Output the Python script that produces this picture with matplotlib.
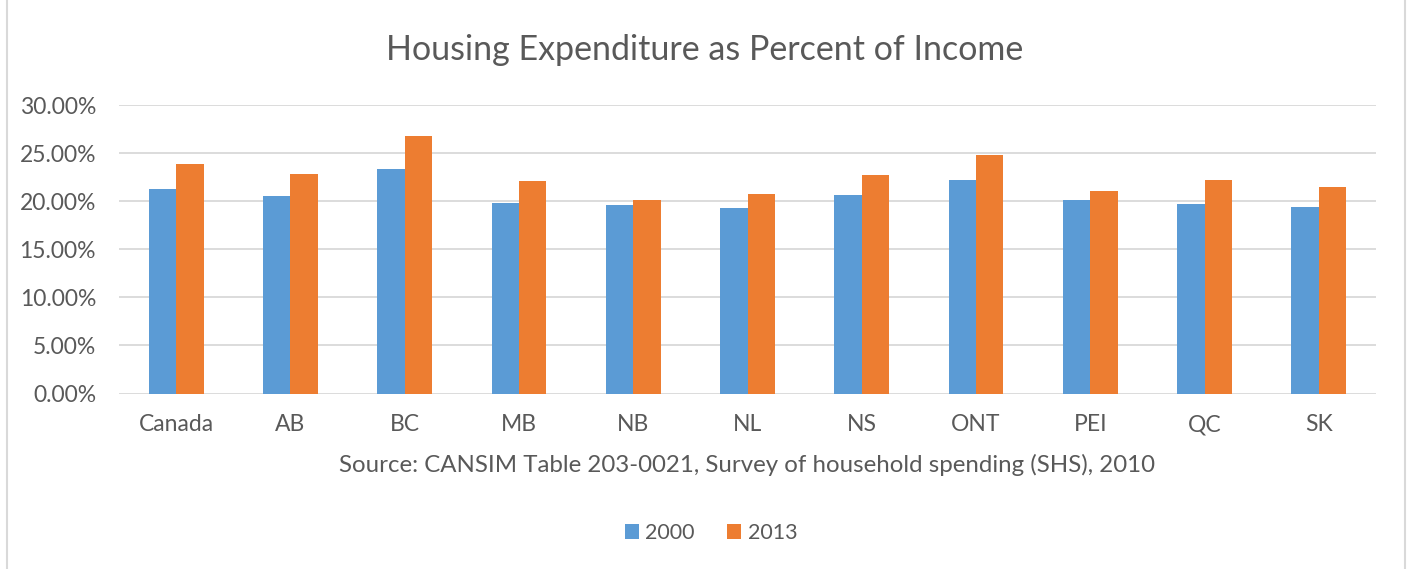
import matplotlib.pyplot as plt
import numpy as np
from matplotlib.patches import Rectangle
from matplotlib.ticker import FuncFormatter

plt.rcParams['font.family'] = ['Lato', 'DejaVu Sans']

regions = ['Canada', 'AB', 'BC', 'MB', 'NB', 'NL', 'NS', 'ONT', 'PEI', 'QC', 'SK']
pct_2000 = [21.3, 20.5, 23.3, 19.85, 19.6, 19.3, 20.6, 22.2, 20.1, 19.75, 19.4]
pct_2013 = [23.85, 22.8, 26.8, 22.1, 20.1, 20.75, 22.7, 24.8, 21.05, 22.25, 21.5]
years = ['2000', '2013']

blue = '#5b9bd5'
orange = '#ed7d31'
grey_text = '#595959'

fig = plt.figure(figsize=(14.1, 5.69), dpi=100)
ax = fig.add_axes([119 / 1410, 1 - 393.5 / 569, 1257 / 1410, 288.5 / 569])

x = np.arange(len(regions))
w = 0.24
ax.bar(x - w / 2, pct_2000, w, color=blue, label=years[0], zorder=3)
ax.bar(x + w / 2, pct_2013, w, color=orange, label=years[1], zorder=3)

ax.set_xlim(-0.5, len(regions) - 0.5)
ax.set_ylim(0, 30)
ax.set_yticks(np.arange(0, 31, 5))
ax.yaxis.set_major_formatter(FuncFormatter(lambda v, p: '%.2f%%' % v))
ax.grid(axis='y', color='#d9d9d9', linewidth=1.3, zorder=0)
for s in ax.spines.values():
    s.set_visible(False)
ax.tick_params(length=0, labelsize=16.5, labelcolor=grey_text)
ax.tick_params(axis='y', pad=16.5)
ax.tick_params(axis='x', pad=15)
ax.set_xticks(x)
ax.set_xticklabels(regions)

fig.text(0.5, 1 - 50 / 569, 'Housing Expenditure as Percent of Income',
         ha='center', va='center', fontsize=24.5, color=grey_text)
fig.text(747 / 1410, 1 - 465 / 569,
         'Source: CANSIM Table 203-0021, Survey of household spending (SHS), 2010',
         ha='center', va='center', fontsize=17.3, color=grey_text)

fig.legend(loc='center', bbox_to_anchor=(711 / 1410, 1 - 533 / 569), ncol=2,
           frameon=False, fontsize=15.5, labelcolor=grey_text,
           handlelength=0.65, handleheight=0.65, handletextpad=0.3, columnspacing=1.5)

# light frame around the whole chart
fig.add_artist(Rectangle((7 / 1410, -0.01), 1398 / 1410, 1.02, transform=fig.transFigure,
                         fill=False, edgecolor='#d9d9d9', linewidth=1.5))

fig.savefig('out.png', dpi=100)
